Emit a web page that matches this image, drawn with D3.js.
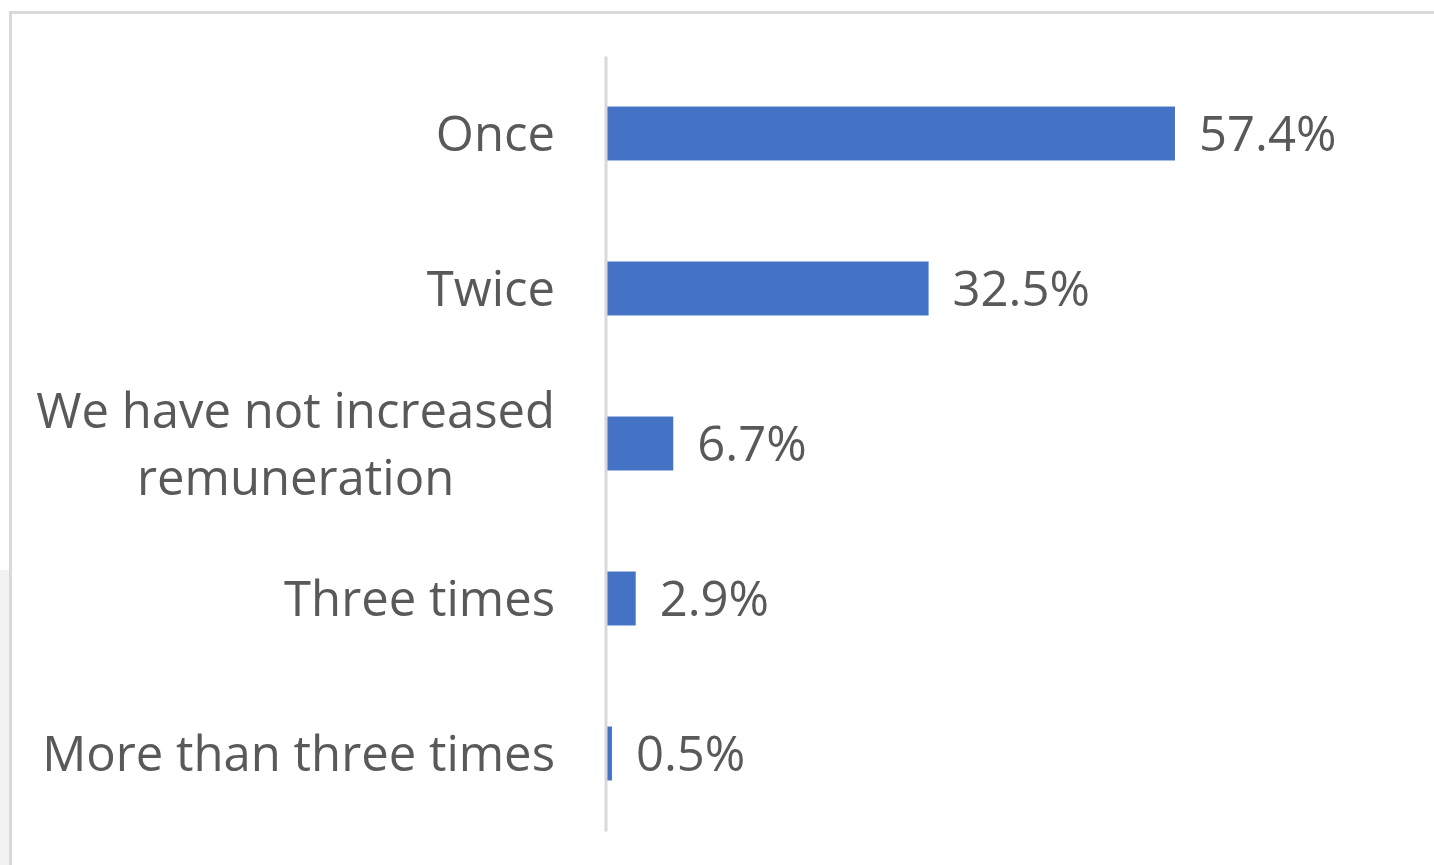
<!DOCTYPE html>
<html>
<head>
<meta charset="utf-8">
<script src="https://cdn.jsdelivr.net/npm/d3@7"></script>
<style>
  html, body { margin: 0; padding: 0; background: #ffffff; }
  svg { display: block; }
</style>
</head>
<body>
<svg id="chart" width="1434" height="865"></svg>
<script>
const categories = [
  ["Once"],
  ["Twice"],
  ["We have not increased", "remuneration"],
  ["Three times"],
  ["More than three times"]
];
const values = [57.4, 32.5, 6.7, 2.9, 0.5];
const valueLabels = ["57.4%", "32.5%", "6.7%", "2.9%", "0.5%"];

const svg = d3.select("#chart");
const W = 1434, H = 865;
const font = "'Open Sans', 'DejaVu Sans', sans-serif";
const textColor = "#595959";

// background pieces / frame
svg.append("rect").attr("x", 0).attr("y", 570).attr("width", 9).attr("height", H - 570).attr("fill", "#f2f2f2");
svg.append("rect").attr("x", 9).attr("y", 11).attr("width", W - 9).attr("height", 3).attr("fill", "#d9d9d9");
svg.append("rect").attr("x", 9).attr("y", 11).attr("width", 3).attr("height", H - 11).attr("fill", "#d9d9d9");

const idx = d3.range(values.length);
const y = d3.scaleBand().domain(idx).range([56, 831]).paddingInner(0.652).paddingOuter(0.326);
const x = d3.scaleLinear().domain([0, 60]).range([607, 1200.7]);

// bars
svg.append("g").selectAll("rect").data(idx).join("rect")
  .attr("x", x(0))
  .attr("y", i => y(i))
  .attr("width", i => x(values[i]) - x(0))
  .attr("height", y.bandwidth())
  .attr("fill", "#4472C4");

// axis line (category axis)
const axis = d3.axisLeft(y).tickSize(0).tickFormat("");
const gAxis = svg.append("g").attr("transform", `translate(${x(0) - 1.5},0)`).call(axis);
gAxis.select(".domain").attr("stroke", "#d9d9d9").attr("stroke-width", 3);

// category labels
const labelRight = 555;
const gLab = svg.append("g");
idx.forEach(i => {
  const lines = categories[i];
  const cy = y(i) + y.bandwidth() / 2;
  const lh = 67;
  const t = gLab.append("text")
    .attr("font-family", font)
    .attr("font-size", 49)
    .attr("fill", textColor);
  if (lines.length === 1) {
    t.attr("text-anchor", "end").attr("x", labelRight).attr("y", cy + 17.5).text(lines[0]);
  } else {
    t.attr("text-anchor", "middle");
    const tmp = svg.append("text").attr("font-family", font).attr("font-size", 49).text(lines[0]);
    const wMax = d3.max(lines, l => { tmp.text(l); return tmp.node().getComputedTextLength(); });
    tmp.remove();
    const cx = labelRight - wMax / 2;
    lines.forEach((l, k) => {
      t.append("tspan").attr("x", cx)
        .attr("y", cy + 17.5 + (k - (lines.length - 1) / 2) * lh)
        .text(l);
    });
  }
});

// value labels
svg.append("g").selectAll("text").data(idx).join("text")
  .attr("x", i => x(values[i]) + 24)
  .attr("y", i => y(i) + y.bandwidth() / 2 + 17.5)
  .attr("font-family", font)
  .attr("font-size", 49)
  .attr("fill", textColor)
  .text(i => valueLabels[i]);
</script>
</body>
</html>
